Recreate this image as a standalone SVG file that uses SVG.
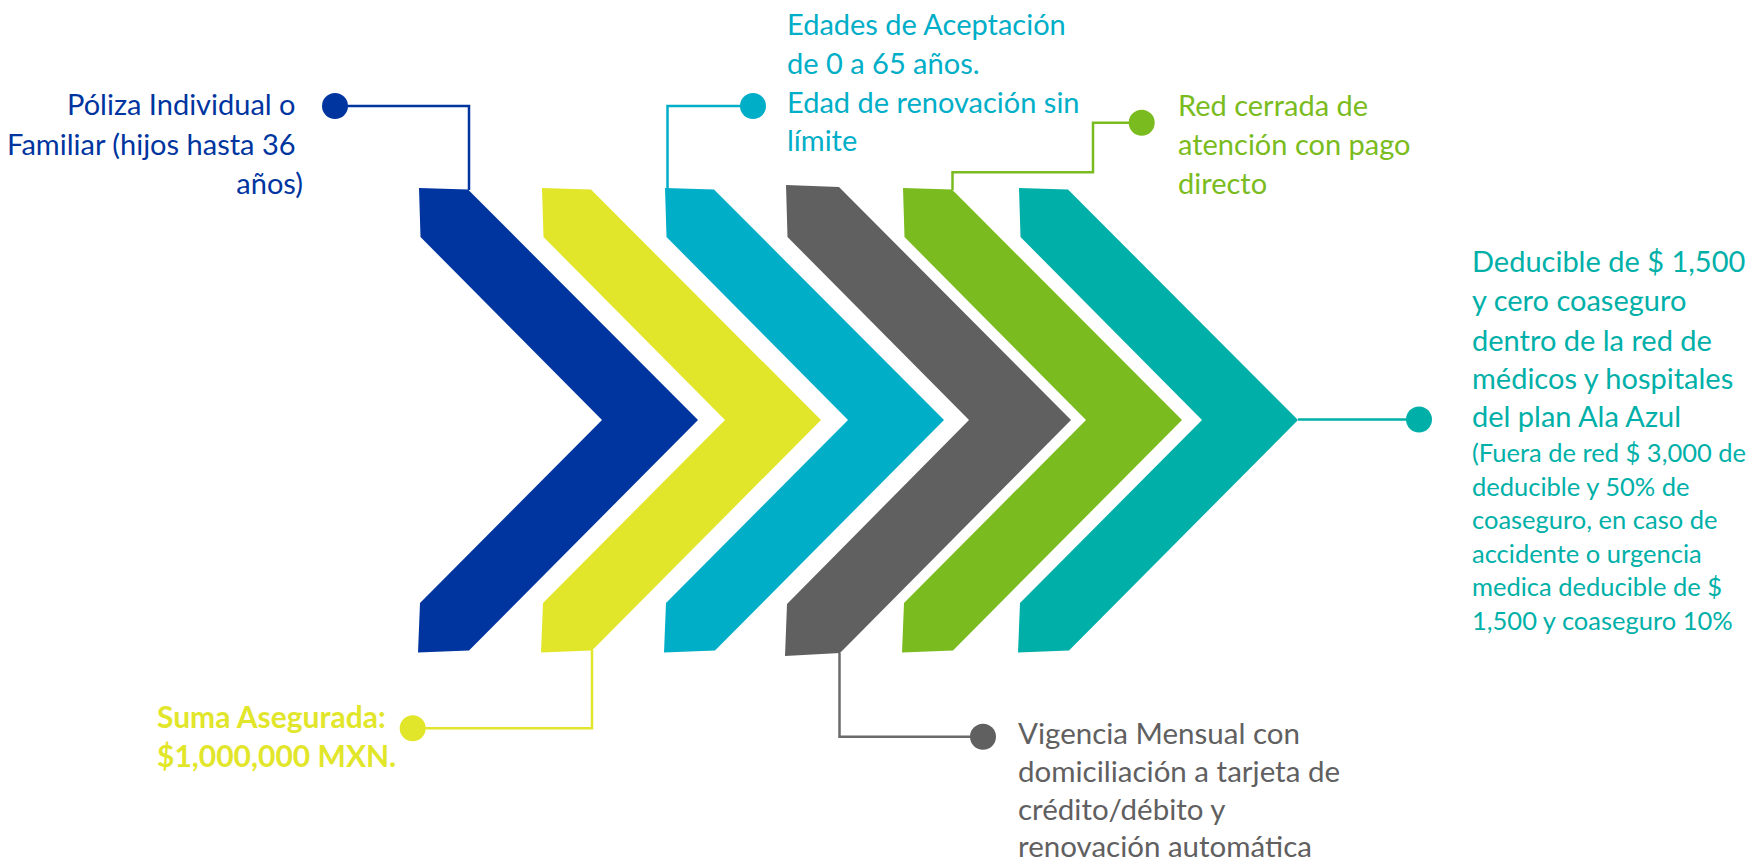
<svg xmlns="http://www.w3.org/2000/svg" width="1756" height="863" viewBox="0 0 1756 863">
<style>
  .t { font-family: Lato, "Open Sans", "Liberation Sans", sans-serif; font-size: 29px; }
  .s { font-size: 25.5px; }
  .b { font-weight: bold; font-size: 30px; }
  .g { font-size: 29.5px; }
  .c { fill: none; stroke-width: 2.5; }
</style>
<rect width="1756" height="863" fill="#ffffff"/>
<g id="chevron-blue"><polygon fill="#0035A0" points="419,188 468,189.5 698,420 469,650.5 418,652.5 420,603 602,420 420.5,237"/></g>
<g id="chevron-yellow"><polygon fill="#E2E62A" points="542,188 591,189.5 821,420 592,650.5 541,652.5 543,603 725,420 543.5,237"/></g>
<g id="chevron-cyan"><polygon fill="#00AEC7" points="665,188 714,189.5 944,420 715,650.5 664,652.5 666,603 848,420 666.5,237"/></g>
<g id="chevron-gray"><polygon fill="#5F605F" points="786,185 839,187 1071,420 840,653 785,656 787,604 969,420 787.5,237"/></g>
<g id="chevron-green"><polygon fill="#7ABC20" points="903,188 952,189.5 1182,420 953,650.5 902,652.5 904,603 1086,420 904.5,237"/></g>
<g id="chevron-teal"><polygon fill="#00B0A8" points="1019,188 1068,189.5 1298,420 1069,650.5 1018,652.5 1020,603 1202,420 1020.5,237"/></g>

<g id="connectors">
  <path class="c" stroke="#0035A0" d="M335,106 H469 V190"/>
  <path class="c" stroke="#00AEC7" d="M753,106 H667.5 V189"/>
  <path class="c" stroke="#7ABC20" d="M1141.7,122.7 H1093 V172.3 H952.5 V190"/>
  <path class="c" stroke="#00B0A8" stroke-width="3" d="M1298,419.5 H1419"/>
  <path class="c" stroke="#E2E62A" d="M412.7,728.3 H592 V650"/>
  <path class="c" stroke="#6A6B6A" d="M983,736.7 H839.5 V653"/>
</g>

<g id="label-blue">
  <circle cx="335" cy="106" r="13" fill="#0035A0"/>
  <text class="t" fill="#0035A0" text-anchor="end">
    <tspan x="303" y="115">Póliza Individual o</tspan>
    <tspan x="303" y="155">Familiar (hijos hasta 36</tspan>
    <tspan x="303" y="194">años)</tspan>
  </text>
</g>
<g id="label-cyan">
  <circle cx="753" cy="106" r="13" fill="#00AEC7"/>
  <text class="t" fill="#00AEC7">
    <tspan x="787" y="35">Edades de Aceptación</tspan>
    <tspan x="787" y="74">de 0 a 65 años.</tspan>
    <tspan x="787" y="113">Edad de renovación sin</tspan>
    <tspan x="787" y="151">límite</tspan>
  </text>
</g>
<g id="label-green">
  <circle cx="1141.7" cy="122.7" r="13" fill="#7ABC20"/>
  <text class="t" fill="#7ABC20">
    <tspan x="1178" y="116">Red cerrada de</tspan>
    <tspan x="1178" y="155">atención con pago</tspan>
    <tspan x="1178" y="194">directo</tspan>
  </text>
</g>
<g id="label-teal">
  <circle cx="1419" cy="419.5" r="13" fill="#00B0A8"/>
  <text class="t" fill="#00B0A8">
    <tspan x="1472" y="272">Deducible de $ 1,500</tspan>
    <tspan x="1472" y="311">y cero coaseguro</tspan>
    <tspan x="1472" y="351">dentro de la red de</tspan>
    <tspan x="1472" y="389">médicos y hospitales</tspan>
    <tspan x="1472" y="427">del plan Ala Azul</tspan>
  </text>
  <text class="t s" fill="#00B0A8">
    <tspan x="1472" y="462">(Fuera de red $ 3,000 de</tspan>
    <tspan x="1472" y="496">deducible y 50% de</tspan>
    <tspan x="1472" y="529">coaseguro, en caso de</tspan>
    <tspan x="1472" y="563">accidente o urgencia</tspan>
    <tspan x="1472" y="596">medica deducible de $</tspan>
    <tspan x="1472" y="630">1,500 y coaseguro 10%</tspan>
  </text>
</g>
<g id="label-yellow">
  <circle cx="412.7" cy="728.3" r="13" fill="#E2E62A"/>
  <text class="t b" fill="#E2E62A">
    <tspan x="157" y="728">Suma Asegurada:</tspan>
    <tspan x="157" y="767">$1,000,000 MXN.</tspan>
  </text>
</g>
<g id="label-gray">
  <circle cx="983" cy="736.7" r="13" fill="#5F605F"/>
  <text class="t g" fill="#5F605F">
    <tspan x="1018" y="744">Vigencia Mensual con</tspan>
    <tspan x="1018" y="782">domiciliación a tarjeta de</tspan>
    <tspan x="1018" y="820">crédito/débito y</tspan>
    <tspan x="1018" y="857">renovación automática</tspan>
  </text>
</g>
</svg>
